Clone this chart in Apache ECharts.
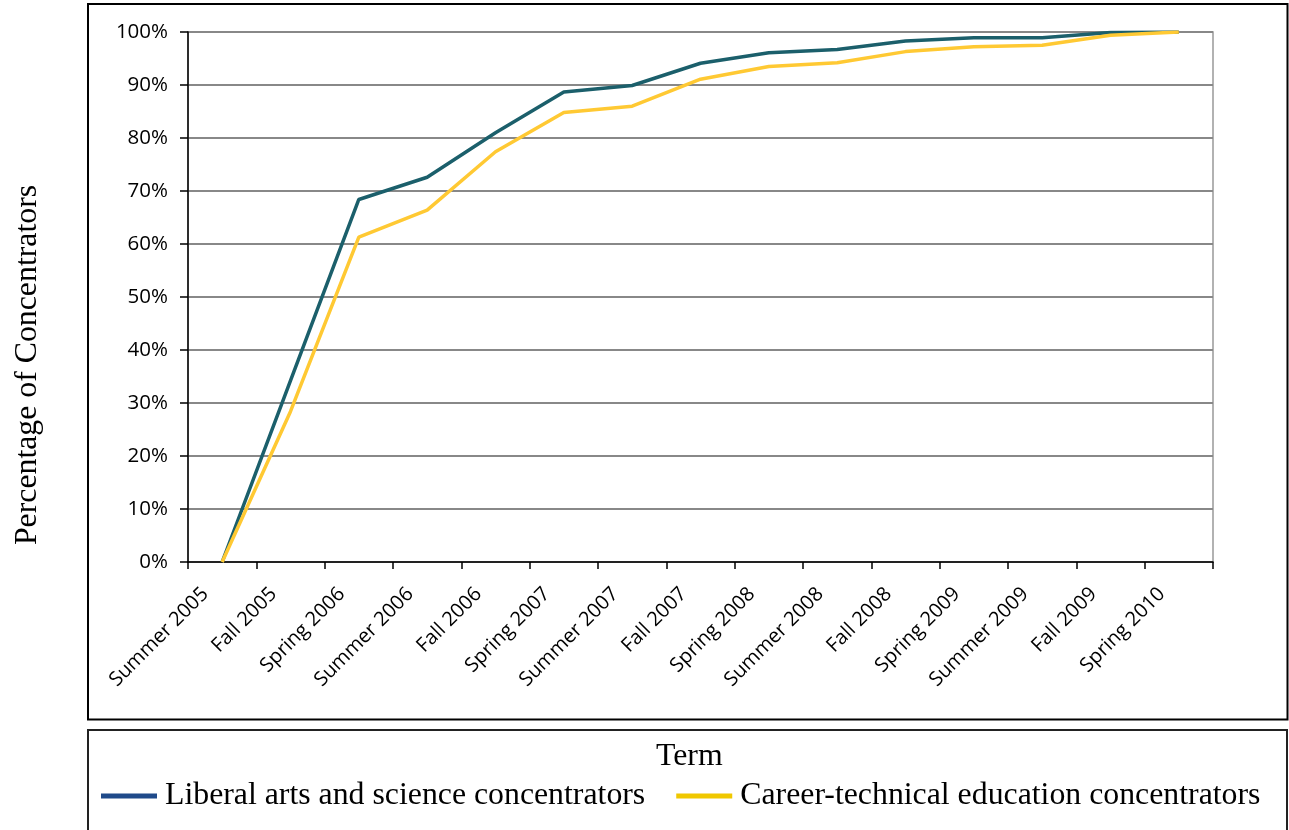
<!DOCTYPE html>
<html>
<head>
<meta charset="utf-8">
<script src="https://cdn.jsdelivr.net/npm/echarts@6/dist/echarts.min.js"></script>
<style>
html,body{margin:0;padding:0;background:#fff;}
#chart{width:1289px;height:830px;}
</style>
</head>
<body>
<div id="chart"></div>
<script>
var terms = ['Summer 2005','Fall 2005','Spring 2006','Summer 2006','Fall 2006','Spring 2007','Summer 2007','Fall 2007','Spring 2008','Summer 2008','Fall 2008','Spring 2009','Summer 2009','Fall 2009','Spring 2010'];
var liberalArts = [0, 34.2, 68.4, 72.6, 81.0, 88.7, 89.9, 94.1, 96.1, 96.7, 98.3, 98.9, 98.9, 99.9, 100];
var careerTech = [0, 28.4, 61.3, 66.4, 77.4, 84.8, 86.0, 91.1, 93.5, 94.2, 96.3, 97.2, 97.5, 99.4, 100];
var seriesNames = ['Liberal arts and science concentrators', 'Career-technical education concentrators'];
var lineColors = ['#1b5f6b', '#ffc933'];
var legendColors = ['#1f4a8a', '#f0c800'];

var chart = echarts.init(document.getElementById('chart'), null, {renderer: 'canvas'});
var option = {
  backgroundColor: '#ffffff',
  animation: false,
  title: {
    text: 'Term',
    left: 656,
    top: 741,
    padding: 0,
    textStyle: {fontFamily: 'Liberation Serif', fontSize: 31.8, fontWeight: 'normal', color: '#000'}
  },
  legend: {
    left: 101,
    top: 780,
    padding: 0,
    icon: 'rect',
    itemWidth: 56,
    itemHeight: 5,
    itemGap: 31,
    textStyle: {fontFamily: 'Liberation Serif', fontSize: 31.8, color: '#000', padding: [0, 0, 0, 3]},
    data: [
      {name: seriesNames[0], itemStyle: {color: legendColors[0]}},
      {name: seriesNames[1], itemStyle: {color: legendColors[1]}}
    ]
  },
  graphic: [
    {type: 'rect', shape: {x: 88, y: 4, width: 1199.5, height: 715.5}, style: {fill: 'none', stroke: '#000', lineWidth: 2}, silent: true},
    {type: 'rect', shape: {x: 88, y: 730, width: 1199, height: 110}, style: {fill: 'none', stroke: '#222', lineWidth: 2}, silent: true}
  ],
  grid: {
    left: 188, right: 76, top: 32, bottom: 268,
    containLabel: false,
    outerBoundsMode: 'none',
    show: true, borderColor: '#999', borderWidth: 1.5
  },
  xAxis: {
    type: 'category',
    data: terms,
    boundaryGap: true,
    axisLine: {show: true, lineStyle: {color: '#000', width: 1.5}},
    axisTick: {show: true, length: 7, lineStyle: {color: '#000', width: 1.5}},
    axisLabel: {interval: 0, rotate: 45, margin: 12, padding: [0, 24, 0, 0], fontFamily: 'Open Sans', fontSize: 20, color: '#000'}
  },
  yAxis: {
    type: 'value',
    min: 0, max: 100, interval: 10,
    name: 'Percentage of Concentrators',
    nameLocation: 'middle',
    nameGap: 144,
    nameTextStyle: {fontFamily: 'Liberation Serif', fontSize: 31.8, color: '#000', padding: [0, 136, 0, 0]},
    axisLine: {show: true, lineStyle: {color: '#000', width: 1.5}},
    axisTick: {show: true, length: 8, lineStyle: {color: '#000', width: 1.5}},
    axisLabel: {formatter: '{value}%', margin: 20, fontFamily: 'Open Sans', fontSize: 20.5, color: '#000'},
    splitLine: {show: true, lineStyle: {color: '#888', width: 2}}
  },
  series: [
    {name: seriesNames[0], type: 'line', data: liberalArts, showSymbol: false, symbol: 'none', lineStyle: {color: lineColors[0], width: 3.5}, itemStyle: {color: lineColors[0]}},
    {name: seriesNames[1], type: 'line', data: careerTech, showSymbol: false, symbol: 'none', lineStyle: {color: lineColors[1], width: 3.5}, itemStyle: {color: lineColors[1]}}
  ]
};
chart.setOption(option);
</script>
</body>
</html>
